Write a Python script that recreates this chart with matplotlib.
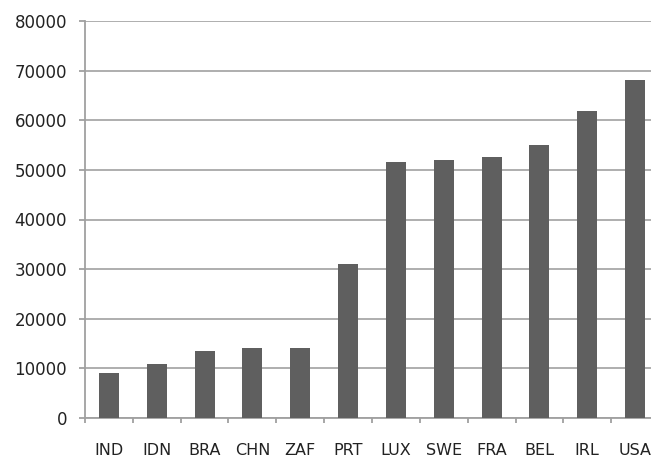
import matplotlib
matplotlib.use("Agg")
import matplotlib.pyplot as plt
import numpy as np

# country codes and values, lowest to highest
countries = ["IND", "IDN", "BRA", "CHN", "ZAF", "PRT", "LUX", "SWE", "FRA", "BEL", "IRL", "USA"]
values = [9000, 10800, 13600, 14200, 14200, 31100, 51600, 51900, 52600, 55100, 61900, 68200]
yticks = [0, 10000, 20000, 30000, 40000, 50000, 60000, 70000, 80000]

plt.rcParams['font.family'] = ['DejaVu Sans']

fig = plt.figure(figsize=(6.51, 4.59), dpi=100)
# plot area runs a little past the right edge of the figure
ax = fig.add_axes([85/651, 41/459, 574/651, 397/459])

x = np.arange(len(countries))
ax.bar(x, values, width=0.42, color='#5f5f5f', zorder=3)

ax.set_xlim(-0.5, len(countries) - 0.5)
ax.set_ylim(0, 80000)
ax.set_yticks(yticks)
ax.set_yticklabels([str(v) for v in yticks])
ax.yaxis.grid(True, color='#a8a8a8', linewidth=1.3, zorder=0)

# x ticks sit between the categories, labels centred under the bars
ax.set_xticks(np.arange(len(countries) + 1) - 0.5)
ax.set_xticklabels([])
ax.set_xticks(x, minor=True)
ax.set_xticklabels(countries, minor=True)
ax.tick_params(axis='x', which='minor', length=0, pad=17.9, labelsize=11.5, labelcolor='#222222')
ax.tick_params(axis='x', which='major', length=3.6, width=1.3, color='#a0a0a0')
ax.tick_params(axis='y', length=4.3, width=1.3, color='#a0a0a0', pad=8.6, labelsize=12, labelcolor='#222222')

for s in ['top', 'right']:
    ax.spines[s].set_visible(False)
for s in ['left', 'bottom']:
    ax.spines[s].set_color('#a0a0a0')
    ax.spines[s].set_linewidth(1.3)

fig.savefig("out.png", dpi=100)
